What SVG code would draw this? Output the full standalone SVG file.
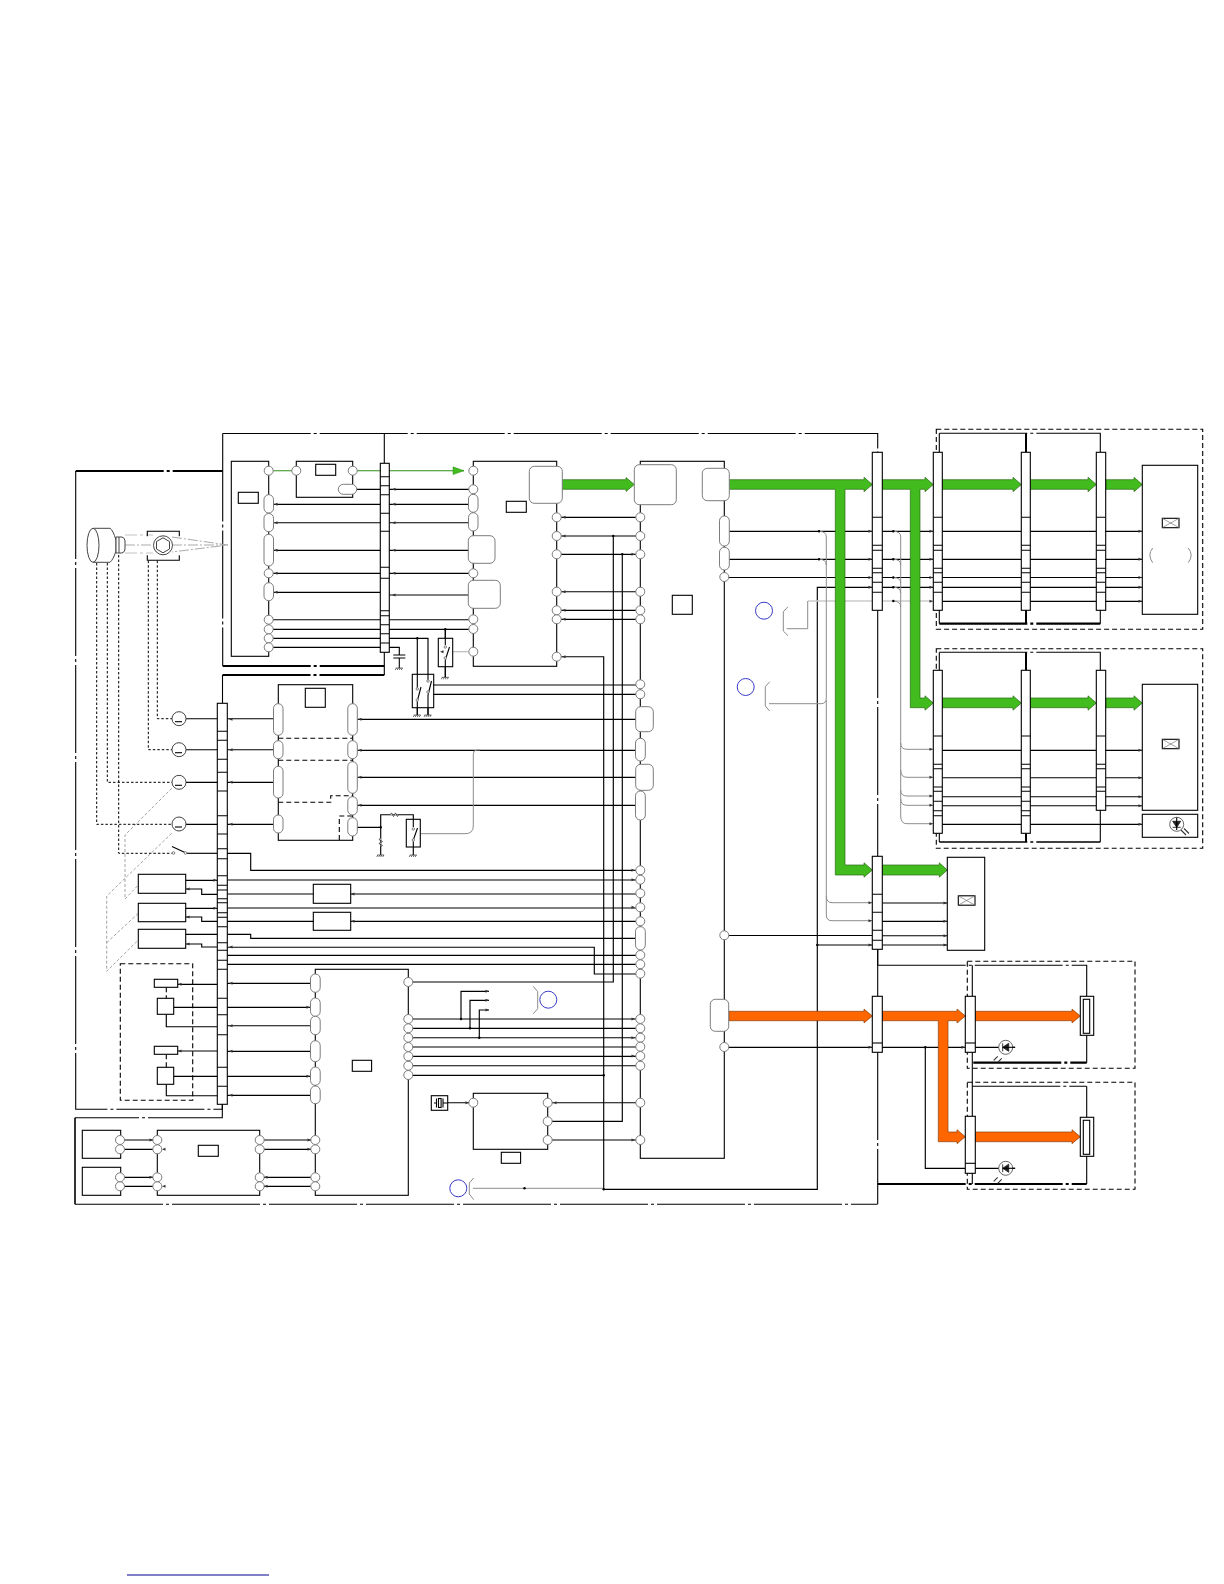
<svg xmlns="http://www.w3.org/2000/svg" width="1224" height="1584" viewBox="0 0 1224 1584">
<style>
.n{fill:#fff;stroke:#000;stroke-width:1.1}
.o{fill:none;stroke:#000;stroke-width:1.1}
.l{fill:none;stroke:#000;stroke-width:1.15}
.f{fill:none;stroke:#000;stroke-width:1.1;stroke-dasharray:88 3 3 3}
.t{fill:none;stroke:#000;stroke-width:2.2;stroke-dasharray:88 3 3 3}
.d{fill:none;stroke:#000;stroke-width:1.1;stroke-dasharray:5 3}
.s{fill:none;stroke:#000;stroke-width:1;stroke-dasharray:2.5 2}
.g{fill:none;stroke:#8c8c8c;stroke-width:1}
.gd{fill:none;stroke:#999;stroke-width:.9;stroke-dasharray:3 2}
.lg{fill:none;stroke:#d8d8d8;stroke-width:1.4;stroke-dasharray:12 3 3 3}
.p{fill:#fff;stroke:#7c7c7c;stroke-width:1}
.b{fill:none;stroke:#3a3ac8;stroke-width:1}
.gr{fill:#42bb1e;stroke:#2a6a14;stroke-width:.7}
.or{fill:#ff6600;stroke:#8a4010;stroke-width:.7}
.ar{fill:#333}
</style>
<defs>
<circle id="c" r="4.5" class="p"/>
<g id="mo"><circle r="7" fill="#fff" stroke="#444" stroke-width="1"/><path d="M-4 3H3" class="o"/></g>
<g id="xb"><rect x="0" y="0" width="16.7" height="9.4" class="n"/><path d="M0 0L16.7 9.4M16.7 0L0 9.4" fill="none" stroke="#777" stroke-width=".7"/></g>
<g id="gnd"><path d="M-3.5 0H3.5M-3 0L-4 2M-1 0L-2 2M1 0L0 2M3 0L2 2" fill="none" stroke="#333" stroke-width=".7"/></g>
<g id="led"><circle r="7" fill="#fff" stroke="#555" stroke-width=".9"/><path d="M-3 -4V4M3 -4V4L-3 0Z" fill="#222" stroke="#222" stroke-width=".9"/><path d="M-3 0H9.5" class="o"/><path d="M-8 9L-12 13M-4 11L-8 15" fill="none" stroke="#333" stroke-width="1.1"/></g>
</defs>

<g id="frames">
<path class="f" d="M222.7 433.5H877.7V456"/>
<path class="f" d="M222.7 433.5V666"/>
<path class="o" d="M384.3 433.5V463M384.3 652V675"/>
<path class="t" d="M222.7 666H384.3"/>
<path class="t" d="M222.5 675H384.3"/>
<path class="o" d="M222.5 675V703"/>
<path class="t" d="M75.7 471H222.7"/>
<path class="f" d="M75.7 471V1109.3H222.3V1104"/>
<path class="f" d="M222.3 1104V1117.7H75"/>
<path class="o" style="stroke-width:1.6" d="M75 1117.7V1204.3"/>
<path class="f" d="M75 1204.3H877.7"/>
<path class="f" d="M877.7 610V856"/>
<path class="f" d="M877.7 949V996"/>
<path class="f" d="M877.7 1052V1204"/>
<path class="o" d="M877.7 950V965.3"/>
<path class="f" d="M877.7 965.3H1086.7V996"/>
<path class="o" d="M1086.7 1035V1062.7M1086.7 1086.3V1117M1086.7 1156V1184"/>
<path class="t" d="M973.3 1062.7H1086.7"/>
<path class="t" d="M877.7 1184H1086.7"/>
<path class="f" d="M972.3 1086.3H1086.7"/>
<path class="o" d="M972.3 965.3V996M972.3 1052V1116M972.3 1173V1184"/>
<path class="d" d="M967.3 961.3H1135V1068.3H967.3Z"/>
<path class="d" d="M967.3 1082.3H1135V1189.3H967.3Z"/>
<path class="d" d="M936.3 429.3H1202.7V629.3H936.3Z"/>
<path class="d" d="M936.3 648.7H1202.7V848.3H936.3Z"/>
<path class="f" d="M939.3 433.3H1100.3V452"/>
<path class="o" d="M939.3 433.3V452M939.3 610V623.7M1100.3 610V623.7"/>
<path class="t" d="M939.3 623.7H1100.3"/>
<path class="o" style="stroke-width:2" d="M1026 433.3V452M1026 610V623.7"/>
<path class="f" d="M939.3 652.3H1100.3V670"/>
<path class="o" d="M939.3 652.3V670M939.3 833V842M1100.3 810V842"/>
<path class="f" style="stroke-width:1.4" d="M939.3 842H1100.3"/>
<path class="o" style="stroke-width:2" d="M1026 652.3V670M1026 833V842"/>
<path class="d" d="M120.3 963.7H192.7V1100.3H120.3Z"/>
</g>

<g id="connectors">
<path class="l" d="M356.7 489.3H474M273 504.3H474M273 522.7H474M273 550.3H470M273 573.3H474M273 592.3H380M389 595H470M273 619.7H474M273 629.3H474M273 638.3H428V715M273 647.3H399.3V655M417.3 638.3V715M445.3 629.3V677.3"/>
<path class="o" d="M393.3 655H405.3M393.3 658H405.3M399.3 658V668"/>
<path fill="none" stroke="#2f8f18" stroke-width="1.1" d="M273 470.7H296M352.7 470.7H464"/>
<path d="M453 466.8L464 470.7L453 474.6Z" fill="#42bb1e" stroke="#2f8f18" stroke-width=".5"/>
<path class="l" d="M433 685H640M433 694.3H640"/>
<path stroke="#bbb" stroke-width="1.2" fill="none" d="M452.7 651.7H468"/>
<path class="l" d="M556.7 517.3H640M556.7 536H640M556.7 554.3H640M556.7 591.7H640M556.7 610.3H640M556.7 619.3H640"/>
<path class="l" d="M556.7 656.7H603.7V1189.3H817.3V587.3H872M817.3 945H872"/>
<path class="l" d="M408 982H613.3V536M622.3 554.3V1121.3H547.7M408 1075.3H603.7"/>
<path class="l" d="M186 718.7H278M186 749.7H278M186 782.3H278M186 824.3H278"/>
<path class="l" d="M352 719.3H636M352 750.3H636M352 777.3H636M352 805.3H636"/>
<path class="l" d="M357 827.3H380.7M380.7 855V814.7H413.3V819M413.3 847V855"/>
<path class="g" d="M480 750H477Q473.3 750 473.3 754V826Q473.3 833.7 465 833.7H421"/>
<path class="l" d="M227 853.3H250.7V870.3H640M227 880H640M227 894H640M227 908H640M227 921.3H640M227 934.3H250.7V938.3H636M227 947.2H594.3V974H640M227 955.3H640M227 964.3H640"/>
<path class="l" d="M186 880.3H217M186 889H201.7V894.3H217M186 908.3H217M186 917H201.7V921.3H217M186 934.3H217M186 944H201.7V947H217"/>
<path class="l" d="M187 853.3H217"/>
<path class="l" d="M177.7 984.3H217M173.7 1007.3H217M166.3 1014.3V1026.7H217M177.7 1051H217M173.7 1076.3H217M166.3 1084.3V1095.7H217"/>
<path class="d" d="M166.3 987.3V998.3M166.3 1054.3V1067.3"/>
<path class="l" d="M227 983.3H311M227 1007.3H311M227 1025.7H311M227 1051.3H311M227 1076.3H311M227 1095.3H311"/>
<path class="l" d="M408 1019H640M408 1028.3H640M408 1037.7H640M408 1047H640M408 1056.3H640M408 1065.7H640"/>
<path class="l" d="M461 1019V991.3H489M470 1028.3V1000.3H489M479.3 1037.7V1010H489"/>
<path class="l" d="M447.7 1102.7H473M547.7 1102.7H640M547.7 1140H640"/>
<path class="l" d="M120.7 1140H315M120.7 1149.3H315M120.7 1177.3H315M120.7 1186.3H315"/>
<path class="s" d="M157.3 560.7V718.7H172M148.3 560.7V749.7H172M107.3 563V782.3H172M96.7 563V824.3H172M118.7 555V853.3H172"/>
<path class="gd" d="M171.7 788.3L125 835V899L138.3 885"/>
<path class="gd" d="M171.7 833.3L106.7 896V971.3L138.3 940M106.7 942.7L138.3 913.3"/>
<path class="l" d="M724 531.3H872M724 559.3H872M724 577.5H872"/>
<path class="l" d="M882 531.3H933M942 531.3H1021M1030 531.3H1096M1105 531.3H1142M882 559.3H933M942 559.3H1021M1030 559.3H1096M1105 559.3H1142M882 577.5H933M942 577.5H1021M1030 577.5H1096M1105 577.5H1142M882 587.3H933M942 587.3H1021M1030 587.3H1096M1105 587.3H1142M942 601.3H1021M1030 601.3H1096M1105 601.3H1142"/>
<path class="l" d="M942 750.3H1021M1030 750.3H1096M1105 750.3H1142M942 777.7H1021M1030 777.7H1096M1105 777.7H1142M942 796.7H1021M1030 796.7H1096M1105 796.7H1142M942 805.7H1021M1030 805.7H1096M1105 805.7H1142M942 824.3H1021M1030 824.3H1142"/>
<path class="l" d="M724 935.5H872M882 903H947M882 921.3H947M882 935.7H947M882 945H947"/>
<path class="l" d="M724 1047.3H872M882 1047.3H965M975 1047.3H1015M925.3 1047.3V1168.3H965M975 1168.3H1015"/>
<path class="g" style="stroke:#ccc;stroke-width:1.4" d="M808 601H872M882 601H933"/>
<path class="g" d="M807.7 601V628.7H786.7"/>
<path class="g" d="M788 606.7L783.3 611.7V631L788 635.7"/>
<path class="g" d="M769.7 681.7L765.3 686.7V706L769.7 711"/>
<path class="g" d="M769 703.7H821Q826.3 703.7 826.3 698V537Q826.3 531.3 819 531.3M819 559.3Q826.3 559.3 826.3 565M826.3 700V896Q826.3 902.7 832 902.7H872M826.3 896V915Q826.3 920.7 832 920.7H872"/>
<path class="g" d="M893.3 531.3Q900.7 531.3 900.7 537V816Q900.7 823.7 907 823.7H933M893.3 559.3Q900.7 559.3 900.7 565M893.3 577.5Q900.7 577.5 900.7 583M893.3 587.3Q900.7 587.3 900.7 593M893.3 601Q900.7 601 900.7 607M900.7 743Q900.7 749.3 907 749.3H933M900.7 770Q900.7 777.3 907 777.3H933M900.7 790Q900.7 796 907 796H933M900.7 799Q900.7 805.3 907 805.3H933"/>
<path class="g" d="M533.3 986.3L537.7 991.7V1008.7L533.3 1013.7"/>
<path class="g" d="M473.7 1178L469.3 1183V1194L473.7 1199.7M473 1188.3H603.7"/>
<path class="lg" d="M125 535H153M125 553H153"/>
<path class="g" style="stroke:#aaa;stroke-dasharray:10 2 2 2" d="M125 545H153M172 537L228 545L172 552M172 545H226"/>
</g>

<g id="bands">
<path class="gr" d="M562 479.7H626V477.5L634.3 484.5L626 491.5V489.3H562Z"/>
<path class="gr" d="M729 479.7H864V477.3L872.3 484.5L864 491.7V489.3H845V865H864V862.8L872.3 870L864 877.2V875H835.3V489.3H729Z"/>
<path class="gr" d="M882.3 865H939.3V862.8L947.3 870L939.3 877.2V875H882.3Z"/>
<path class="gr" d="M882.3 479.7H925V477.3L933.3 484.5L925 491.7V489.3H920V698H925V695.8L933.3 703L925 710.2V707.7H910.3V489.3H882.3Z"/>
<path class="gr" d="M942.3 479.7H1013V477.3L1021.3 484.5L1013 491.7V489.3H942.3Z"/>
<path class="gr" d="M1030.3 479.7H1088V477.3L1096.3 484.5L1088 491.7V489.3H1030.3Z"/>
<path class="gr" d="M1105.7 479.7H1134V477.3L1142.3 484.5L1134 491.7V489.3H1105.7Z"/>
<path class="gr" d="M942.3 698H1013V695.8L1021.3 703L1013 710.2V707.7H942.3Z"/>
<path class="gr" d="M1030.3 698H1088V695.8L1096.3 703L1088 710.2V707.7H1030.3Z"/>
<path class="gr" d="M1105.7 698H1134V695.8L1142.3 703L1134 710.2V707.7H1105.7Z"/>
<path class="or" d="M729 1011.3H864V1009L872.3 1016L864 1023V1020.7H729Z"/>
<path class="or" d="M882.3 1011.3H957V1009L965.3 1016L957 1023V1020.7H948V1132H957V1129.7L965.3 1136.7L957 1143.7V1141.7H938.3V1020.7H882.3Z"/>
<path class="or" d="M975.3 1011.3H1072V1009L1080.3 1016L1072 1023V1020.7H975.3Z"/>
<path class="or" d="M975.3 1132H1072V1129.7L1080.3 1136.7L1072 1143.7V1141.7H975.3Z"/>
</g>

<g id="board1-main">
<rect class="n" x="231.3" y="461.3" width="37.4" height="195"/>
<rect class="n" x="238.3" y="492.3" width="20" height="11"/>
<use href="#c" x="268.7" y="470.7"/>
<rect class="p" x="264" y="494.7" width="9.5" height="18.3" rx="4.7"/>
<rect class="p" x="264" y="513.5" width="9.5" height="18.2" rx="4.7"/>
<rect class="p" x="264" y="534.3" width="9.5" height="31.7" rx="4.7"/>
<use href="#c" x="268.7" y="573.3"/>
<rect class="p" x="264" y="582.7" width="9.5" height="18" rx="4.7"/>
<use href="#c" x="268.7" y="619.7"/><use href="#c" x="268.7" y="629.3"/><use href="#c" x="268.7" y="638.3"/><use href="#c" x="268.7" y="647.3"/>
</g>
<g id="board1-sub">
<rect class="n" x="296.3" y="461.3" width="56.4" height="36"/>
<rect class="n" x="315.7" y="464.3" width="20" height="11"/>
<use href="#c" x="296.3" y="470.7"/><use href="#c" x="352.7" y="470.7"/>
<rect class="p" x="338.3" y="484.3" width="18.4" height="10" rx="5"/>
</g>
<g id="conn-a">
<rect class="n" x="380.3" y="463.3" width="9" height="189"/>
<path class="o" d="M380.3 476.7h9M380.3 485.7h9M380.3 494.7h9M380.3 513.3h9M380.3 531.3h9M380.3 567.3h9M380.3 578.3h9M380.3 610.7h9M380.3 615.7h9M380.3 624.7h9M380.3 633.7h9M380.3 643h9"/>
</g>
<g id="switch-a">
<rect class="n" x="438.3" y="638.3" width="14.4" height="28.4"/>
<path class="o" d="M445.3 629.3V645M445.3 660V677.3M445.3 660L449.5 647" stroke-width=".8"/>
<circle cx="445.3" cy="647" r="1.2" class="p"/><circle cx="445.3" cy="658" r="1.2" class="p"/>
<use href="#gnd" x="445.3" y="677.3"/>
</g>
<g id="switch-b">
<rect class="n" x="412.3" y="674.3" width="21.4" height="33.4"/>
<path class="o" d="M417.3 674.3V689M417.3 701V715M428 674.3V681M428 695V715M417.3 701L421 687M428 695L431.5 681"/>
<circle cx="417.3" cy="689" r="1.2" class="p"/><circle cx="417.3" cy="700" r="1.2" class="p"/><circle cx="428" cy="681" r="1.2" class="p"/><circle cx="428" cy="692" r="1.2" class="p"/>
<use href="#gnd" x="417.3" y="715"/><use href="#gnd" x="428" y="715"/>
</g>
<use href="#gnd" x="399.3" y="668"/>

<g id="chip3">
<rect class="n" x="473.3" y="461.3" width="83.4" height="205"/>
<rect class="n" x="506.3" y="501.3" width="20" height="11"/>
<use href="#c" x="473.3" y="470.7"/><use href="#c" x="473.3" y="489.3"/>
<rect class="p" x="468.5" y="494.3" width="9.5" height="18" rx="4.7"/>
<rect class="p" x="468.5" y="512.7" width="9.5" height="18.3" rx="4.7"/>
<rect class="p" x="468.3" y="535.7" width="26.7" height="27.6" rx="5"/>
<use href="#c" x="473.3" y="573.3"/>
<rect class="p" x="468.3" y="580.3" width="32" height="28" rx="5"/>
<use href="#c" x="473.3" y="619.3"/><use href="#c" x="473.3" y="629"/><use href="#c" x="473.3" y="651.7"/>
<rect class="p" x="529.3" y="466.3" width="33" height="37" rx="5"/>
<use href="#c" x="556.7" y="517.3"/><use href="#c" x="556.7" y="536"/><use href="#c" x="556.7" y="554.3"/><use href="#c" x="556.7" y="591.7"/><use href="#c" x="556.7" y="610.3"/><use href="#c" x="556.7" y="619.3"/><use href="#c" x="556.7" y="656.7"/>
</g>

<g id="chip4">
<rect class="n" x="640.3" y="461.3" width="84" height="697"/>
<rect class="n" x="672.3" y="595.3" width="20" height="19"/>
<rect class="p" x="634.3" y="464.7" width="42" height="40" rx="5"/>
<use href="#c" x="640.3" y="517.3"/><use href="#c" x="640.3" y="536"/><use href="#c" x="640.3" y="554.3"/><use href="#c" x="640.3" y="591.7"/><use href="#c" x="640.3" y="610.3"/><use href="#c" x="640.3" y="619.3"/><use href="#c" x="640.3" y="684.3"/><use href="#c" x="640.3" y="694.3"/>
<rect class="p" x="635.7" y="706.7" width="17.6" height="25" rx="5"/>
<rect class="p" x="635.5" y="738.3" width="9.8" height="22.7" rx="4.8"/>
<rect class="p" x="635.7" y="764.3" width="17.6" height="26" rx="5"/>
<rect class="p" x="635.5" y="791" width="9.8" height="29" rx="4.8"/>
<use href="#c" x="640.3" y="870.3"/><use href="#c" x="640.3" y="879.7"/><use href="#c" x="640.3" y="893.3"/><use href="#c" x="640.3" y="907.3"/><use href="#c" x="640.3" y="921.3"/>
<rect class="p" x="635.5" y="926.7" width="9.8" height="23.3" rx="4.8"/>
<use href="#c" x="640.3" y="955"/><use href="#c" x="640.3" y="964.3"/><use href="#c" x="640.3" y="973.7"/>
<use href="#c" x="640.3" y="1019"/><use href="#c" x="640.3" y="1028.3"/><use href="#c" x="640.3" y="1037.7"/><use href="#c" x="640.3" y="1046.7"/><use href="#c" x="640.3" y="1056"/><use href="#c" x="640.3" y="1065.7"/>
<use href="#c" x="640.3" y="1102.7"/><use href="#c" x="640.3" y="1140"/>
<rect class="p" x="702.3" y="468.3" width="27" height="32.4" rx="5"/>
<rect class="p" x="719.5" y="516" width="9.8" height="30" rx="4.8"/>
<rect class="p" x="719.5" y="547.3" width="9.8" height="22.7" rx="4.8"/>
<use href="#c" x="724.3" y="577"/><use href="#c" x="724.3" y="935.3"/>
<rect class="p" x="710.3" y="999.3" width="18.4" height="32" rx="5"/>
<use href="#c" x="724.3" y="1047"/>
</g>

<g id="chip5">
<rect class="n" x="278.3" y="684.7" width="74.4" height="155.6"/>
<rect class="n" x="305.3" y="688.3" width="20" height="19"/>
<path class="d" d="M278.3 738.3H352.7M278.3 760.3H352.7M278.3 802.3H330.7V795.7H352.7M339.3 840V816H352.7"/>
<rect class="p" x="273.5" y="703.7" width="9.5" height="31.6" rx="4.7"/>
<rect class="p" x="273.5" y="740.7" width="9.5" height="18" rx="4.7"/>
<rect class="p" x="273.5" y="766.3" width="9.5" height="31.7" rx="4.7"/>
<rect class="p" x="273.5" y="815" width="9.5" height="18" rx="4.7"/>
<rect class="p" x="347.8" y="703.7" width="9.5" height="31.6" rx="4.7"/>
<rect class="p" x="347.8" y="740.7" width="9.5" height="18" rx="4.7"/>
<rect class="p" x="347.8" y="761.7" width="9.5" height="31.6" rx="4.7"/>
<rect class="p" x="347.8" y="796.7" width="9.5" height="18.3" rx="4.7"/>
<rect class="p" x="347.8" y="817.7" width="9.5" height="18.3" rx="4.7"/>
</g>
<g id="net-r">
<rect class="n" x="406.3" y="819.3" width="14" height="27.7"/>
<path class="o" d="M413.3 819.3V827M413.3 840V847M413.3 840L417.5 828" stroke-width=".8"/>
<circle cx="413.3" cy="829" r="1.2" class="p"/><circle cx="413.3" cy="840" r="1.2" class="p"/>
<path fill="#fff" stroke="#333" stroke-width=".8" d="M390 814.7l1.5-1.8 2 3.6 2-3.6 2 3.6 1-1.8M380.7 838l-1.8 1.5 3.6 2-3.6 2 3.6 2-1.8 1"/>
<use href="#gnd" x="380.7" y="855"/><use href="#gnd" x="413.3" y="855"/>
</g>

<g id="conn-b">
<rect class="n" x="217.3" y="703.3" width="10" height="401"/>
<path class="o" d="M217.3 731.3h10M217.3 740.3h10M217.3 759.3h10M217.3 772.3h10M217.3 791h10M217.3 815.7h10M217.3 834h10M217.3 848.7h10M217.3 858.7h10M217.3 875.7h10M217.3 885.3h10M217.3 890h10M217.3 898.7h10M217.3 902.7h10M217.3 912.7h10M217.3 917.3h10M217.3 926.7h10M217.3 942.7h10M217.3 950.3h10M217.3 960.3h10M217.3 969.3h10M217.3 998.3h10M217.3 1014.7h10M217.3 1034.7h10M217.3 1067.3h10M217.3 1086.3h10"/>
</g>
<g id="motors">
<use href="#mo" x="179" y="718.7"/><use href="#mo" x="179" y="749.7"/><use href="#mo" x="179" y="782.3"/><use href="#mo" x="179" y="824"/>
</g>
<g id="switch-s">
<path class="o" d="M172 846.5L186 853"/>
<circle cx="173.5" cy="853" r="1.3" class="p"/><circle cx="185.5" cy="853" r="1.3" class="p"/>
</g>
<g id="box-a"><rect class="n" x="138.3" y="874.3" width="47.4" height="19"/></g>
<g id="box-b"><rect class="n" x="138.3" y="903.3" width="47.4" height="18.4"/></g>
<g id="box-c"><rect class="n" x="138.3" y="929.3" width="47.4" height="19"/></g>
<g id="box-d"><rect class="n" x="313.3" y="884.3" width="37.4" height="19"/></g>
<g id="box-e"><rect class="n" x="313.3" y="912.3" width="37.4" height="18"/></g>
<g id="pair-1"><rect class="n" x="154.3" y="979.3" width="23.4" height="8"/><rect class="n" x="157.3" y="998.3" width="16.4" height="16"/></g>
<g id="pair-2"><rect class="n" x="154.3" y="1046.3" width="23.4" height="8"/><rect class="n" x="157.3" y="1067.3" width="16.4" height="17"/></g>

<g id="chip6">
<rect class="n" x="315.3" y="969.3" width="93" height="226"/>
<rect class="n" x="352.3" y="1060.3" width="19.3" height="11"/>
<rect class="p" x="310.5" y="974" width="9.7" height="18.3" rx="4.8"/>
<rect class="p" x="310.5" y="998" width="9.7" height="18.3" rx="4.8"/>
<rect class="p" x="310.5" y="1016.3" width="9.7" height="18.4" rx="4.8"/>
<rect class="p" x="310.5" y="1040.7" width="9.7" height="21" rx="4.8"/>
<rect class="p" x="310.5" y="1067" width="9.7" height="18.3" rx="4.8"/>
<rect class="p" x="310.5" y="1086" width="9.7" height="17.7" rx="4.8"/>
<use href="#c" x="315.3" y="1140"/><use href="#c" x="315.3" y="1149.3"/><use href="#c" x="315.3" y="1177.3"/><use href="#c" x="315.3" y="1186.3"/>
<use href="#c" x="408.3" y="982"/><use href="#c" x="408.3" y="1019"/><use href="#c" x="408.3" y="1028.3"/><use href="#c" x="408.3" y="1037.7"/><use href="#c" x="408.3" y="1047"/><use href="#c" x="408.3" y="1056.3"/><use href="#c" x="408.3" y="1065.7"/><use href="#c" x="408.3" y="1075"/>
</g>
<g id="chip7">
<rect class="n" x="473.3" y="1093.3" width="74.4" height="56"/>
<rect class="n" x="501.3" y="1152.3" width="19.3" height="11"/>
<use href="#c" x="473.3" y="1102.7"/><use href="#c" x="547.7" y="1102.7"/><use href="#c" x="547.7" y="1121.3"/><use href="#c" x="547.7" y="1140"/>
</g>
<g id="crystal">
<rect class="n" x="431.3" y="1095.7" width="16.4" height="14.6"/>
<path class="o" d="M434 1103H436.5M443 1103H447.7M436.5 1098.5V1107.5M443 1098.5V1107.5"/><rect class="o" x="438.5" y="1098.5" width="2.6" height="9"/>
</g>
<g id="chip8">
<rect class="n" x="157.3" y="1130.3" width="102.4" height="65"/>
<rect class="n" x="198.3" y="1145.3" width="20" height="11"/>
<use href="#c" x="157.3" y="1140"/><use href="#c" x="157.3" y="1149.3"/><use href="#c" x="157.3" y="1177.3"/><use href="#c" x="157.3" y="1186.3"/>
<use href="#c" x="259.7" y="1140"/><use href="#c" x="259.7" y="1149.3"/><use href="#c" x="259.7" y="1177.3"/><use href="#c" x="259.7" y="1186.3"/>
</g>
<g id="box-f"><rect class="n" x="82.3" y="1130.3" width="38.4" height="28"/><use href="#c" x="120" y="1140"/><use href="#c" x="120" y="1149.3"/></g>
<g id="box-g"><rect class="n" x="82.3" y="1167.3" width="38.4" height="28"/><use href="#c" x="120" y="1177.3"/><use href="#c" x="120" y="1186.3"/></g>

<g id="optics">
<path fill="#fff" stroke="#444" stroke-width="1" d="M93 528.3H110Q113 530 116 540V551Q113 560 110 562.3H93"/>
<ellipse cx="93" cy="545.3" rx="6" ry="17" fill="#fff" stroke="#444" stroke-width="1"/>
<path fill="#fff" stroke="#444" stroke-width="1" d="M116 537H122Q125 538 125 541V549Q125 552 122 553H116ZM119 537V553"/>
<path class="o" d="M147.3 536.3V531.3H179.3V536.3M147.3 555.3V560.3H179.3V555.3"/>
<circle cx="163" cy="545.3" r="9.5" fill="#fff" stroke="#444" stroke-width="1"/>
<path fill="none" stroke="#444" stroke-width="1" d="M163 537.8L169.5 541.5V549L163 552.8L156.5 549V541.5Z"/>
</g>

<g id="conn-1">
<rect class="n" x="872.3" y="452.3" width="10" height="158"/>
<path class="o" d="M872.3 517.3h10M872.3 545.3h10M872.3 550.3h10M872.3 568.3h10M872.3 572.7h10M872.3 582.3h10M872.3 592.3h10"/>
</g>
<g id="conn-2">
<rect class="n" x="933.3" y="452.3" width="9" height="158"/>
<path class="o" d="M933.3 517.3h9M933.3 545.3h9M933.3 550.3h9M933.3 568.3h9M933.3 572.7h9M933.3 582.3h9M933.3 592.3h9"/>
</g>
<g id="conn-3">
<rect class="n" x="1021.3" y="452.3" width="9" height="158"/>
<path class="o" d="M1021.3 517.3h9M1021.3 545.3h9M1021.3 550.3h9M1021.3 568.3h9M1021.3 572.7h9M1021.3 582.3h9M1021.3 592.3h9"/>
</g>
<g id="conn-4">
<rect class="n" x="1096.3" y="452.3" width="9.4" height="158"/>
<path class="o" d="M1096.3 517.3h9.4M1096.3 545.3h9.4M1096.3 550.3h9.4M1096.3 568.3h9.4M1096.3 572.7h9.4M1096.3 582.3h9.4M1096.3 592.3h9.4"/>
</g>
<g id="panel-1">
<rect class="n" x="1142.3" y="465.3" width="55.4" height="149"/>
<use href="#xb" x="1162.3" y="518.3"/>
<path class="g" d="M1152.7 548Q1147 555 1152.7 562.7M1188.3 548Q1194 555 1188.3 562.7"/>
</g>
<g id="conn-2b">
<rect class="n" x="933.3" y="670.3" width="9" height="163"/>
<path class="o" d="M933.3 736h9M933.3 764.3h9M933.3 768.7h9M933.3 787h9M933.3 791.3h9M933.3 801.3h9M933.3 810.7h9M933.3 815.7h9"/>
</g>
<g id="conn-3b">
<rect class="n" x="1021.3" y="670.3" width="9" height="163"/>
<path class="o" d="M1021.3 736h9M1021.3 764.3h9M1021.3 768.7h9M1021.3 787h9M1021.3 791.3h9M1021.3 801.3h9M1021.3 810.7h9M1021.3 815.7h9"/>
</g>
<g id="conn-4b">
<rect class="n" x="1096.3" y="670.3" width="9.4" height="140"/>
<path class="o" d="M1096.3 736h9.4M1096.3 764.3h9.4M1096.3 768.7h9.4M1096.3 787h9.4M1096.3 791.3h9.4"/>
</g>
<g id="panel-2">
<rect class="n" x="1142.3" y="684.3" width="55.4" height="126"/>
<use href="#xb" x="1162.3" y="739.3"/>
</g>
<g id="panel-3">
<rect class="n" x="1142.3" y="814.3" width="55.4" height="23"/>
<circle cx="1176.7" cy="824.3" r="7" fill="#fff" stroke="#555" stroke-width=".9"/>
<path d="M1172.7 821.3H1180.7L1176.7 827.3ZM1172.7 827.3H1180.7" fill="#222" stroke="#222" stroke-width=".9"/>
<path d="M1176.7 817.5V830" class="o"/>
<path d="M1181 830L1186 835M1184 828.5L1189 833.5" fill="none" stroke="#333" stroke-width="1.1"/>
</g>
<g id="conn-5">
<rect class="n" x="872.3" y="856.3" width="10" height="93"/>
<path class="o" d="M872.3 894.3h10M872.3 912.3h10M872.3 930.3h10M872.3 940.3h10"/>
</g>
<g id="panel-4">
<rect class="n" x="947.3" y="857.3" width="37.4" height="93"/>
<use href="#xb" x="958.3" y="895.8" />
</g>
<g id="conn-6"><rect class="n" x="872.3" y="996.3" width="10" height="56"/><path class="o" d="M872.3 1043h10"/></g>
<g id="conn-7"><rect class="n" x="965.3" y="996.3" width="10" height="56"/><path class="o" d="M965.3 1043h10"/></g>
<g id="conn-8"><rect class="n" x="965.3" y="1116.3" width="10" height="57"/><path class="o" d="M965.3 1163.3h10"/></g>
<g id="lamp-1"><rect class="n" x="1080.3" y="996.3" width="13.4" height="39"/><rect class="n" x="1083.3" y="999.3" width="6.4" height="34"/></g>
<g id="lamp-2"><rect class="n" x="1080.3" y="1117.3" width="13.4" height="39"/><rect class="n" x="1083.3" y="1120.3" width="6.4" height="34"/></g>
<g id="led-1"><use href="#led" x="1005.7" y="1047.3"/></g>
<g id="led-2"><use href="#led" x="1005.7" y="1168.3"/></g>

<g id="refs">
<circle class="b" cx="764" cy="610.7" r="8.5"/>
<circle class="b" cx="745.7" cy="687" r="8.5"/>
<circle class="b" cx="548.3" cy="999.7" r="8.5"/>
<circle class="b" cx="458.3" cy="1188.3" r="8.5"/>
</g>

<g id="arrows" class="ar">
<path d="M274 504.3l3.5-1.5v3zM274 522.7l3.5-1.5v3zM274 550.3l3.5-1.5v3zM274 573.3l3.5-1.5v3zM274 592.3l3.5-1.5v3zM392 489.3l3.5-1.5v3zM392 504.3l3.5-1.5v3zM392 522.7l3.5-1.5v3zM392 550.3l3.5-1.5v3zM392 573.3l3.5-1.5v3zM392 595l3.5-1.5v3zM229 719.3l3.5-1.5v3zM229 749.7l3.5-1.5v3zM229 782.3l3.5-1.5v3zM229 824.3l3.5-1.5v3zM358 719.3l3.5-1.5v3zM358 750.3l3.5-1.5v3zM358 777.3l3.5-1.5v3zM358 805.3l3.5-1.5v3zM562 517.3l3.5-1.5v3zM562 536l3.5-1.5v3zM562 591.7l3.5-1.5v3zM562 610.3l3.5-1.5v3zM562 619.3l3.5-1.5v3zM562 656.7l3.5-1.5v3zM229 947l3.5-1.5v3zM229 983.3l3.5-1.5v3zM229 1025.7l3.5-1.5v3zM229 1051.3l3.5-1.5v3zM229 1095.3l3.5-1.5v3zM178 984.3l3.5-1.5v3zM178 1051l3.5-1.5v3zM186 889l3.5-1.5v3zM186 917l3.5-1.5v3zM186 944l3.5-1.5v3zM351 894l3.5-1.5v3zM351 921.3l3.5-1.5v3zM162 1149.3l3.5-1.5v3zM162 1186.3l3.5-1.5v3zM264 1177.3l3.5-1.5v3zM264 1186.3l3.5-1.5v3zM553 1102.7l3.5-1.5v3zM440 651.7l3.5-1.5v3z"/>
<path d="M635 554.3l-3.5-1.5v3zM635 870.3l-3.5-1.5v3zM635 879.7l-3.5-1.5v3zM635 907.3l-3.5-1.5v3zM635 1019l-3.5-1.5v3zM635 1037.7l-3.5-1.5v3zM635 1056l-3.5-1.5v3zM635 1140l-3.5-1.5v3zM310 1007.3l-3.5-1.5v3zM310 1076.3l-3.5-1.5v3zM217 880.3l-3.5-1.5v3zM217 908.3l-3.5-1.5v3zM469 1102.7l-3.5-1.5v3zM489 991.3l-3.5-1.5v3zM489 1000.3l-3.5-1.5v3zM489 1010l-3.5-1.5v3zM153 1140l-3.5-1.5v3zM153 1177.3l-3.5-1.5v3zM311 1140l-3.5-1.5v3zM311 1149.3l-3.5-1.5v3z"/>
<path d="M872 531.3l-3.5-1.5v3zM872 559.3l-3.5-1.5v3zM872 577.5l-3.5-1.5v3zM872 587.3l-3.5-1.5v3zM933 531.3l-3.5-1.5v3zM933 559.3l-3.5-1.5v3zM933 577.5l-3.5-1.5v3zM933 587.3l-3.5-1.5v3zM933 601.3l-3.5-1.5v3zM1142 531.3l-3.5-1.5v3zM1142 559.3l-3.5-1.5v3zM1142 577.5l-3.5-1.5v3zM1142 587.3l-3.5-1.5v3zM1142 601.3l-3.5-1.5v3zM933 749.3l-3.5-1.5v3zM933 777.3l-3.5-1.5v3zM933 796l-3.5-1.5v3zM933 805.3l-3.5-1.5v3zM933 823.7l-3.5-1.5v3zM1142 750.3l-3.5-1.5v3zM1142 777.7l-3.5-1.5v3zM1142 796.7l-3.5-1.5v3zM1142 805.7l-3.5-1.5v3zM1142 824.3l-3.5-1.5v3zM947 903l-3.5-1.5v3zM947 921.3l-3.5-1.5v3zM947 935.7l-3.5-1.5v3zM947 945l-3.5-1.5v3zM872 902.7l-3.5-1.5v3zM872 920.7l-3.5-1.5v3zM872 945l-3.5-1.5v3zM872 1047.3l-3.5-1.5v3zM965 1047.3l-3.5-1.5v3z"/>
<g fill="#000"><circle cx="819" cy="531.3" r="1.2"/><circle cx="819" cy="559.3" r="1.2"/><circle cx="893.3" cy="531.3" r="1.2"/><circle cx="893.3" cy="559.3" r="1.2"/><circle cx="893.3" cy="577.5" r="1.2"/><circle cx="893.3" cy="587.3" r="1.2"/><circle cx="893.3" cy="601" r="1.2"/><circle cx="613.3" cy="536" r="1.2"/><circle cx="622.3" cy="554.3" r="1.2"/><circle cx="461" cy="1019" r="1.2"/><circle cx="470" cy="1028.3" r="1.2"/><circle cx="479.3" cy="1037.7" r="1.2"/><circle cx="603.7" cy="1075.3" r="1.2"/><circle cx="603.7" cy="1189.3" r="1.2"/><circle cx="817.3" cy="945" r="1.2"/><circle cx="925.3" cy="1047.3" r="1.2"/><circle cx="417.3" cy="638.3" r="1.2"/><circle cx="445.3" cy="629.3" r="1.2"/><circle cx="380.7" cy="827.3" r="1.2"/><circle cx="524.5" cy="1188.3" r="1.2"/></g>
</g>

<path id="page-rule" d="M127 1575H269" fill="none" stroke="#000090" stroke-width="1"/>
</svg>
